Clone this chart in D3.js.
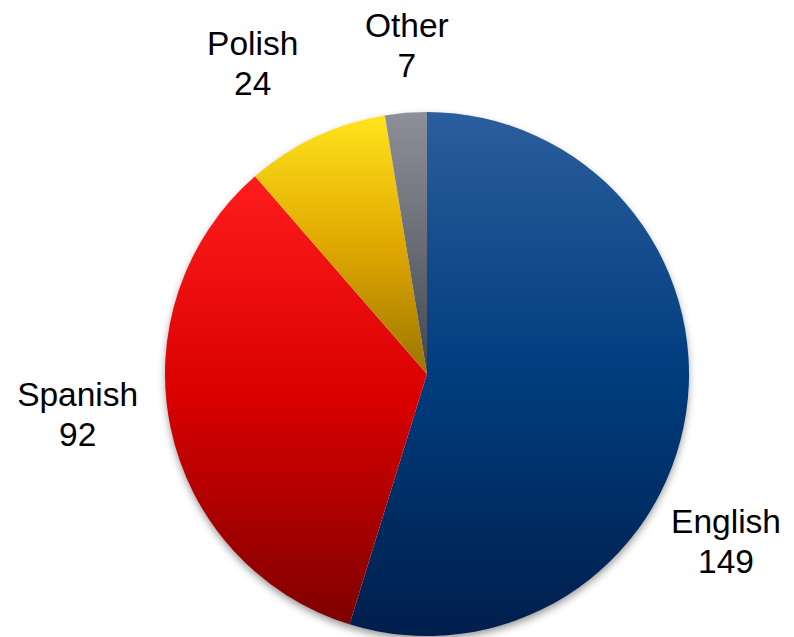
<!DOCTYPE html>
<html><head><meta charset="utf-8">
<script src="https://cdn.jsdelivr.net/npm/d3@7/dist/d3.min.js"></script>
<style>html,body{margin:0;padding:0;background:#fff;}svg{display:block;}</style>
</head><body>
<script>
const categories = ["English", "Spanish", "Polish", "Other"];
const values = [149, 92, 24, 7];
const colorTop = ["#2b5e9e", "#ff1c1c", "#ffe41c", "#8d8f99"];
const colorMid = ["#003d7e", "#d90000", "#e0a800", "#6a6d76"];
const colorBot = ["#001e4c", "#7e0000", "#9a7600", "#41454d"];

const W = 794, H = 637;
const cx = 427, cy = 374, R = 262;
const svg = d3.select("body").append("svg").attr("width", W).attr("height", H);
const defs = svg.append("defs");

const f = defs.append("filter").attr("id", "sh").attr("x", "-20%").attr("y", "-20%").attr("width", "140%").attr("height", "140%");
f.append("feDropShadow").attr("dx", 0).attr("dy", 4).attr("stdDeviation", 4).attr("flood-color", "#000").attr("flood-opacity", 0.45);

categories.forEach((c, i) => {
  const g = defs.append("linearGradient").attr("id", "g" + i).attr("x1", 0).attr("y1", 0).attr("x2", 0).attr("y2", 1);
  g.append("stop").attr("offset", "0%").attr("stop-color", colorTop[i]);
  g.append("stop").attr("offset", "50%").attr("stop-color", colorMid[i]);
  g.append("stop").attr("offset", "100%").attr("stop-color", colorBot[i]);
});

const data = categories.map((c, i) => ({ name: c, value: values[i], i }));
const pie = d3.pie().value(d => d.value).sort(null);
const arcs = pie(data);
const arc = d3.arc().innerRadius(0).outerRadius(R);

const g = svg.append("g").attr("transform", `translate(${cx},${cy})`);
const shadowG = g.append("g").attr("filter", "url(#sh)");
shadowG.append("circle").attr("r", R - 1).attr("fill", "#fff");
g.selectAll("path.slice").data(arcs).enter().append("path")
  .attr("class", "slice")
  .attr("d", arc)
  .attr("fill", d => `url(#g${d.data.i})`);

// label layout (relative to the outer edge at each slice's mid-angle)
const labelArc = d3.arc().innerRadius(R).outerRadius(R);
const labelShift = { English: [40, 120], Spanish: [-93, -22], Polish: [-63, -82], Other: [1, -76] };
const lab = svg.append("g").attr("transform", `translate(${cx},${cy})`)
  .attr("font-family", "Liberation Sans, Arial, sans-serif").attr("font-size", 33.5).attr("fill", "#000")
  .attr("text-anchor", "middle");
arcs.forEach(d => {
  const [x, y] = labelArc.centroid(d);
  const s = labelShift[d.data.name];
  const t = lab.append("text").attr("x", x + s[0]).attr("y", y + s[1]);
  t.append("tspan").attr("x", x + s[0]).attr("dy", 0).text(d.data.name);
  t.append("tspan").attr("x", x + s[0]).attr("dy", 40).text(d.data.value);
});
</script>
</body></html>
